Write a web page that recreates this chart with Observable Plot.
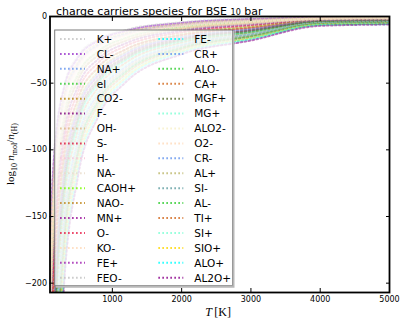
<!DOCTYPE html>
<html><head><meta charset="utf-8">
<script src="https://cdn.jsdelivr.net/npm/d3@7"></script>
<script src="https://cdn.jsdelivr.net/npm/@observablehq/plot@0.6"></script>
<style>body{margin:0;background:#fff;} svg{display:block;}</style>
</head><body><div id="chart"></div>
<script>
const temperature = [100, 120, 150, 200, 300, 500, 800, 1200, 2000, 3000, 4000, 5000];
const xTicks = [1000, 2000, 3000, 4000, 5000];
const yTicks = [-200, -150, -100, -50, 0];
const species = ["K+","CL-","NA+","el","CO2-","F-","OH-","S-","H-","NA-","CAOH+","NAO-","MN+","O-","KO-","FE+","FEO-",
  "FE-","CR+","ALO-","CA+","MGF+","MG+","ALO2-","O2-","CR-","AL+","SI-","AL-","TI+","SI+","SIO+","ALO+","AL2O+"];
const palette = ["#c4c4c4","#9932cc","#6495ed","#32cd32","#b8860b","#800080","#deb887","#dc143c","#f7c6d6","#e8dccb","#7cfc00","#c08a20","#9a109a","#e9204a","#ffdab9","#a020b0","#c0c0c0",
  "#00ffff","#6495ed","#32cd32","#d2691e","#556b2f","#7fffd4","#f8f0c8","#ffdab9","#6495ed","#bdb76b","#5f9ea0","#32cd32","#d2691e","#7fffd4","#ffd700","#00ffff","#8b008b"];

const kPlus = [-165.8,-137.5,-109.2,-80.8,-52.5,-29.8,-17.1,-10.0,-4.3,-1.5,-0.8,-0.5];
const clMinus = [-171.2,-142,-112.8,-83.7,-54.5,-31.2,-18.0,-10.8,-4.9,-2.0,-1.0,-0.8];
const naPlus = [-196.3,-163,-129.7,-96.3,-63,-36.3,-21.3,-13,-6.3,-3,-1.5,-1.2];
const el = [-236,-196,-156,-116,-76,-44,-26,-16,-8,-4,-2,-1.8];
const co2Minus = [-256.3,-213,-169.7,-126.3,-83,-48.3,-28.8,-18,-9.3,-5,-2.5,-2.2];
const fMinus = [-276.7,-230,-183.3,-136.7,-90,-52.7,-31.7,-20,-10.7,-6,-3,-2.5];
const ohMinus = [-186.2,-154.5,-122.8,-91.2,-59.5,-34.2,-19.9,-12,-5.7,-2.5,-1.0,-0.6];
const sMinus = [-297,-247,-197,-147,-97,-57,-34.5,-22,-12,-7,-3.2,-2.8];
const hMinus = [-206.5,-171.5,-136.5,-101.5,-66.5,-38.5,-22.8,-14,-7,-3.5,-1.5,-1.0];
const naMinus = [-226.8,-188.5,-150.2,-111.8,-73.5,-42.8,-25.6,-16,-8.3,-4.5,-2.0,-1.5];
const caohPlus = [-327,-272,-217,-162,-107,-63,-38.3,-24.5,-13.5,-8,-3.5,-3.0];
const naoMinus = [-347.3,-289,-230.7,-172.3,-114,-67.3,-41.1,-26.5,-14.8,-9,-3.8,-3.2];
const mnPlus = [-367.7,-306,-244.3,-182.7,-121,-71.7,-43.9,-28.5,-16.2,-10,-4.0,-3.5];
const oMinus = [-317.8,-264.5,-211.2,-157.8,-104.5,-61.8,-37.8,-24.5,-13.8,-8.5,-3.6,-3.0];
const koMinus = [-198,-165,-131,-97.5,-64,-37,-22,-13.5,-6.6,-3.2,-1.2,-0.8];
const fePlus = [-397.7,-331,-264.3,-197.7,-131,-77.7,-47.7,-31,-17.7,-11,-4.2,-3.8];
const feoMinus = [-247.2,-205.5,-163.8,-122.2,-80.5,-47.2,-28.4,-18,-9.7,-5.5,-2.2,-1.6];
const feMinus = [-418,-348,-278,-208,-138,-82,-50.5,-33,-19,-12,-4.5,-4.0];
const crPlus = [-357.5,-297.5,-237.5,-177.5,-117.5,-69.5,-42.5,-27.5,-15.5,-9.5,-3.5,-3.0];
const aloMinus = [-407.8,-339.5,-271.2,-202.8,-134.5,-79.8,-49.1,-32,-18.3,-11.5,-4.3,-3.8];
const caPlus = [-437.8,-364.5,-291.2,-217.8,-144.5,-85.8,-52.8,-34.5,-19.8,-12.5,-4.6,-4.0];
const mgfPlus = [-387.5,-322.5,-257.5,-192.5,-127.5,-75.5,-46.3,-30,-17,-10.5,-4.0,-3.5];
const mgPlus = [-457.7,-381,-304.3,-227.7,-151,-89.7,-55.2,-36,-20.7,-13,-4.8,-4.2];
const alo2Minus = [-216.7,-180,-143.3,-106.7,-70,-40.7,-24.2,-15,-7.7,-4,-1.6,-1.0];
const o2Minus = [-237,-197,-157,-117,-77,-45,-27,-17,-9,-5,-2.0,-1.4];
const crMinus = [-477.5,-397.5,-317.5,-237.5,-157.5,-93.5,-57.5,-37.5,-21.5,-13.5,-5.0,-4.4];
const alPlus = [-497.3,-414,-330.7,-247.3,-164,-97.3,-59.8,-39,-22.3,-14,-5.2,-4.6];
const siMinus = [-517.2,-430.5,-343.8,-257.2,-170.5,-101.2,-62.2,-40.5,-23.2,-14.5,-5.4,-4.8];
const alMinus = [-527.3,-439,-350.7,-262.3,-174,-103.3,-63.6,-41.5,-23.8,-15,-5.6,-5.0];
const tiPlus = [-547.2,-455.5,-363.8,-272.2,-180.5,-107.2,-65.9,-43,-24.7,-15.5,-5.8,-5.1];
const siPlus = [-567,-472,-377,-282,-187,-111,-68.3,-44.5,-25.5,-16,-6.0,-5.3];
const sioPlus = [-577.2,-480.5,-383.8,-287.2,-190.5,-113.2,-69.7,-45.5,-26.2,-16.5,-6.2,-5.5];
const aloPlus = [-597,-497,-397,-297,-197,-117,-72,-47,-27,-17,-6.4,-5.7];
const al2oPlus = [-617.3,-514,-410.7,-307.3,-204,-121.3,-74.8,-49,-28.3,-18,-7.0,-6.0];

const series = [kPlus, clMinus, naPlus, el, co2Minus, fMinus, ohMinus, sMinus, hMinus, naMinus, caohPlus, naoMinus, mnPlus, oMinus, koMinus, fePlus, feoMinus,
  feMinus, crPlus, aloMinus, caPlus, mgfPlus, mgPlus, alo2Minus, o2Minus, crMinus, alPlus, siMinus, alMinus, tiPlus, siPlus, sioPlus, aloPlus, al2oPlus];

const rows = [];
species.forEach((s, i) => series[i].forEach((v, j) => rows.push({species: s, T: temperature[j], v})));

const dash = "1.7,2.3";
const fmtY = d => d < 0 ? "\u2212" + Math.abs(d) : String(d);

const chart = Plot.plot({
  width: 407, height: 326,
  marginLeft: 49.5, marginRight: 18, marginTop: 16, marginBottom: 34,
  style: {fontFamily: "DejaVu Sans", fontSize: "8px", background: "white", color: "black", overflow: "visible"},
  x: {domain: [100, 5000]},
  y: {domain: [-207, 0]},
  color: {domain: species, range: palette},
  marks: [
    Plot.line(rows, {x: "T", y: "v", z: "species", stroke: "species", strokeWidth: 2, strokeDasharray: dash, strokeOpacity: 0.55, curve: "monotone-x", clip: true}),
    Plot.axisX({ticks: xTicks, tickSize: 0, tickPadding: 4, label: null, tickFormat: d => String(d)}),
    Plot.axisX({ticks: xTicks, anchor: "bottom", tickSize: -4, tickFormat: () => "", label: null}),
    Plot.axisX({ticks: xTicks, anchor: "top", tickSize: -4, tickFormat: () => "", label: null}),
    Plot.axisY({ticks: yTicks, tickSize: 0, tickPadding: 3, label: null, tickFormat: fmtY}),
    Plot.axisY({ticks: yTicks, anchor: "left", tickSize: -4, tickFormat: () => "", label: null}),
    Plot.axisY({ticks: yTicks, anchor: "right", tickSize: -4, tickFormat: () => "", label: null}),
    Plot.frame({stroke: "black", strokeWidth: 1.8})
  ]
});
document.getElementById("chart").appendChild(chart);

const svg = d3.select(chart);
// title
const title = svg.append("text").attr("x", 56).attr("y", 15).attr("text-anchor", "start")
  .style("font-family", "DejaVu Sans").style("font-size", "11px").attr("fill", "black");
title.append("tspan").text("charge carriers species for BSE ");
title.append("tspan").style("font-size", "8px").text("10");
title.append("tspan").text(" bar");

// y label
const yl = svg.append("text").attr("transform", "translate(14,154) rotate(-90)")
  .attr("text-anchor", "middle").style("font-family", "Liberation Serif").style("font-size", "11px").attr("fill", "black");
yl.append("tspan").text("log");
yl.append("tspan").style("font-size", "8px").attr("dy", 3).text("10");
yl.append("tspan").attr("dy", -3).text("\u2009");
yl.append("tspan").style("font-style", "italic").text("n");
yl.append("tspan").style("font-size", "8px").attr("dy", 3).text("mol");
yl.append("tspan").attr("dy", -3).text("/");
yl.append("tspan").style("font-style", "italic").text("n");
yl.append("tspan").style("font-size", "8px").attr("dy", 3).text("(H)");

// x label
const xl = svg.append("text").attr("x", 218).attr("y", 316).attr("text-anchor", "middle")
  .style("font-family", "Liberation Serif").style("font-size", "12px").attr("fill", "black");
xl.append("tspan").style("font-style", "italic").text("T");
xl.append("tspan").text("\u2009[K]");

// legend
const lg = svg.append("g");
lg.append("rect").attr("x", 54.7).attr("y", 30).attr("width", 177.8).attr("height", 255.7)
  .attr("fill", "white").attr("fill-opacity", 0.78).attr("stroke", "#7a7a7a").attr("stroke-width", 1);
lg.append("path").attr("d", "M233.5,31V286.7H55.7").attr("fill", "none").attr("stroke", "#b8b8b8").attr("stroke-width", 2);
species.forEach((s, i) => {
  const col = Math.floor(i / 17), row = i % 17;
  const x0 = col ? 158.3 : 60, tx = col ? 194.3 : 96.7, y = 39 + row * 14.92;
  lg.append("line").attr("x1", x0).attr("x2", x0 + 25).attr("y1", y).attr("y2", y)
    .attr("stroke", palette[i]).attr("stroke-width", 2).attr("stroke-dasharray", dash).attr("stroke-opacity", 0.8);
  lg.append("text").attr("x", tx).attr("y", y).attr("dy", "0.36em").attr("text-anchor", "start")
    .style("font-family", "DejaVu Sans").style("font-size", "10.5px").attr("fill", "black").text(s);
});
</script>
</body></html>
